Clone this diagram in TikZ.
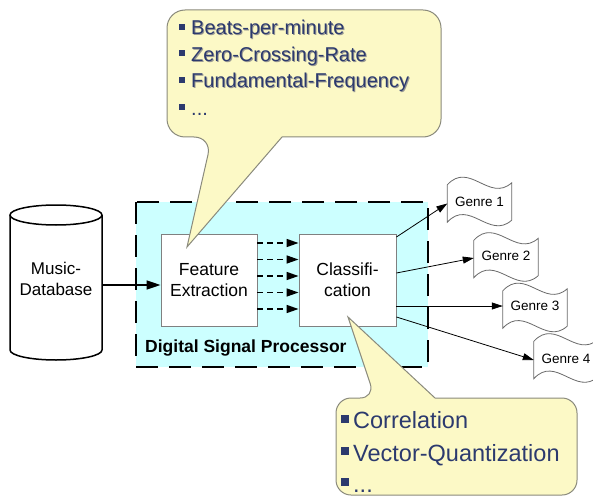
\documentclass[tikz,border=0pt]{standalone}
\usepackage{fontspec}
\setmainfont{Liberation Sans}
\usetikzlibrary{arrows.meta,calc}

\definecolor{dspfill}{HTML}{CCFFFF}
\definecolor{notefill}{HTML}{FCF9C6}
\definecolor{noteline}{HTML}{8A8A7C}
\definecolor{notetext}{HTML}{2C3A6E}
\definecolor{noteshadow}{HTML}{9A9A94}
\definecolor{boxline}{HTML}{808080}
\definecolor{genreline}{HTML}{6A6A6A}

\begin{document}
\begin{tikzpicture}[x=1pt,y=-1pt,
  block/.style={draw=boxline, line width=0.9pt, fill=white, minimum width=96pt,
    minimum height=92pt, inner sep=0pt, align=center,
    font=\fontsize{17.5}{21}\selectfont},
  genre/.style={minimum width=64pt, minimum height=37pt, inner sep=0pt,
    font=\fontsize{13}{15}\selectfont},
  genreedge/.style={draw=genreline, line width=0.8pt, fill=white},
  dsp/.style={draw=black, fill=dspfill, line width=2pt, dash pattern=on 22pt off 11pt},
  cyl/.style={draw=black, line width=1.5pt, fill=white},
  feed/.style={draw=black, line width=1.5pt, dash pattern=on 6pt off 4pt,
    -{Triangle[length=12pt,width=8pt]}},
  load/.style={draw=black, line width=1.6pt, -{Triangle[length=14pt,width=9pt]}},
  genrearrow/.style={draw=black, line width=0.8pt, -{Triangle[length=11pt,width=7pt]}},
  note/.style={draw=noteline, line width=1pt, fill=notefill},
  notesmall/.style={anchor=base west, inner sep=0pt, text=notetext,
    font=\fontsize{20}{24}\selectfont},
  noteshade/.style={anchor=base west, inner sep=0pt, text=noteshadow,
    font=\fontsize{20}{24}\selectfont},
  notebig/.style={anchor=base west, inner sep=0pt, text=notetext,
    font=\fontsize{23.5}{28}\selectfont},
  bullet/.style={fill=notetext}]

\useasboundingbox (0,0) rectangle (593,497);
\clip (0,0) rectangle (593,497);

% processor frame
\path[dsp] (136,202) rectangle (428,367);
\node[anchor=base west, inner sep=0pt, font=\bfseries\fontsize{17.5}{21}\selectfont]
  (dsplabel) at (145,352) {Digital Signal Processor};

% music database cylinder
\path[cyl] (10,215) -- (10,350) arc[start angle=180, end angle=0, x radius=46, y radius=10] -- (102,215);
\path[cyl] (56,215) ellipse[x radius=46, y radius=10];
\node[align=center, inner sep=0pt, minimum width=92pt, minimum height=120pt,
  font=\fontsize{17}{21}\selectfont] (db) at (56,279) {Music-\\Database};

% processing blocks
\node[block] (fe) at (209,280) {Feature\\Extraction};
\node[block, minimum width=97pt] (cls) at (347.5,280) {Classifi-\\cation};

% database into feature extraction
\draw[load] ([yshift=-6pt]db.east) -- ([yshift=-6pt]db.east -| fe.west);

% feature vectors
\foreach \dy in {37,20.5,4,-12.5,-29}
  \draw[feed] ([yshift=\dy pt]fe.east) -- ([yshift=\dy pt]cls.west);

% genres
\node[genre] (g1) at (479.5,203.5) {};
\node[genre] (g2) at (506,259) {};
\node[genre] (g3) at (535,309.5) {};
\node[genre] (g4) at (566,360) {};
\foreach \g in {g1,g2,g3,g4}
  \path[genreedge] (\g.north west)
    .. controls ($(\g.north west)+(22,-24)$) and ($(\g.north west)+(42,18)$) .. ([yshift=2pt]\g.north east)
    -- ([yshift=2pt]\g.south east)
    .. controls ($(\g.south west)+(42,18)$) and ($(\g.south west)+(22,-24)$) .. (\g.south west)
    -- cycle;
\node[font=\fontsize{13.5}{15}\selectfont, inner sep=0pt] (t1) at ([yshift=1.5pt]g1.center) {Genre 1};
\node[font=\fontsize{13.5}{15}\selectfont, inner sep=0pt] (t2) at ([yshift=3pt]g2.center) {Genre 2};
\node[font=\fontsize{13.5}{15}\selectfont, inner sep=0pt] (t3) at ([yshift=3.5pt]g3.center) {Genre 3};
\node[font=\fontsize{13.5}{15}\selectfont, inner sep=0pt] (t4) at ([yshift=1pt]g4.center) {Genre 4};

% classification outputs
\draw[genrearrow] ([yshift=43pt]cls.east) -- (g1.west);
\draw[genrearrow] ([yshift=7pt]cls.east) -- ([yshift=1pt]g2.west);
\draw[genrearrow] ([yshift=-26pt]cls.east) -- ([yshift=-26pt]cls.east -| g3.west);
\draw[genrearrow] ([yshift=-37pt]cls.east) -- (g4.west);

% feature callout
\path[note] (187,247) -- (282,137) [rounded corners=18pt] -- (441,137) -- (441,10)
  -- (167,10) -- (167,137) -- (212,137) [sharp corners] -- cycle;
\fill[bullet] (179,24) rectangle (185,30);
\fill[bullet] (179,50.5) rectangle (185,56.5);
\fill[bullet] (179,77) rectangle (185,83);
\fill[bullet] (179,104.5) rectangle (185,110.5);
\node[noteshade] (s1) at (192,36) {Beats-per-minute};
\node[noteshade] (s2) at (192,62.5) {Zero-Crossing-Rate};
\node[noteshade] (s3) at (192,89) {Fundamental-Frequency};
\node[notesmall] (f1) at (191,35) {Beats-per-minute};
\node[notesmall] (f2) at (191,61.5) {Zero-Crossing-Rate};
\node[notesmall] (f3) at (191,88) {Fundamental-Frequency};
\node[notesmall] (f4) at (191,116) {...};

% classification callout
\path[note] (348,317) -- (435,398) [rounded corners=15pt] -- (577,398) -- (577,495)
  -- (336,495) -- (336,398) -- (375,398) [sharp corners] -- cycle;
\fill[bullet] (341,415) rectangle (349,423);
\fill[bullet] (341,447) rectangle (349,455);
\fill[bullet] (341,478) rectangle (349,486);
\node[notebig] (c1) at (353,428) {Correlation};
\node[notebig] (c2) at (353,461) {Vector-Quantization};
\node[notebig] (c3) at (353,492) {...};
\end{tikzpicture}
\end{document}
